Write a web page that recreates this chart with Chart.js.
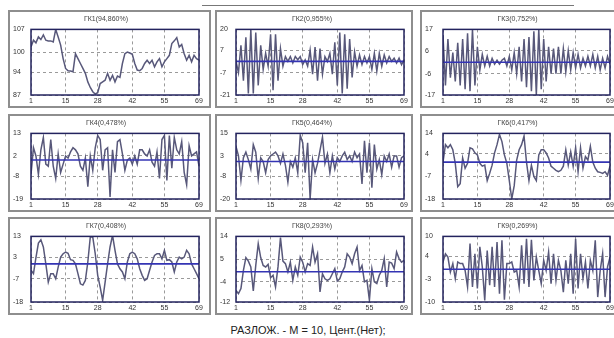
<!DOCTYPE html>
<html>
<head>
<meta charset="utf-8">
<script src="https://cdn.jsdelivr.net/npm/chart.js@4.4.0/dist/chart.umd.min.js"></script>
<style>
  body { margin: 0; background: #fff; width: 614px; height: 338px; overflow: hidden; position: relative; font-family: "Liberation Sans", Arial, sans-serif; }
  .panel { position: absolute; box-sizing: border-box; border: 2px solid #8e8e8e; background: #fff; }
  .panel canvas { display: block; }
  #caption { position: absolute; left: 0; width: 616px; top: 324px; text-align: center; font-size: 11px; color: #222; }
  #strip { position: absolute; left: 202px; width: 372px; top: 5px; height: 0; border-top: 1px solid #777; }
</style>
</head>
<body>
<div id="strip"></div>
<div id="caption">РАЗЛОЖ. - М = 10, Цент.(Нет);</div>
<script>
// подписи оси X и заголовки
const xTicks = [1, 15, 28, 42, 55, 69];
const titles = ['ГК1(94,860%)', 'ГК2(0,955%)', 'ГК3(0,752%)', 'ГК4(0,478%)', 'ГК5(0,464%)',
  'ГК6(0,417%)', 'ГК7(0,408%)', 'ГК8(0,293%)', 'ГК9(0,269%)'];

// подписи оси Y для каждой компоненты
const yTicks1 = [87, 94, 100, 107];
const yTicks2 = [-21, -7, 7, 20];
const yTicks3 = [-17, -6, 6, 17];
const yTicks4 = [-19, -8, 2, 13];
const yTicks5 = [-20, -8, 3, 15];
const yTicks6 = [-18, -7, 4, 14];
const yTicks7 = [-18, -7, 3, 13];
const yTicks8 = [-12, -4, 5, 14];
const yTicks9 = [-10, -3, 4, 10];

// значения главных компонент (69 точек)
const pc1 = [101.6,103.7,102.9,104.7,103.9,105.3,103.7,103.5,103.5,103.2,107,104.7,102.2,98.1,95.1,94.4,94.3,94.1,99.6,98.1,
  96.6,95.1,93.6,91,89.3,88,87.3,87.7,90.5,91,91.5,93.6,91.5,93,91,92.8,92.4,96.6,99.6,100.1,
  99.8,99.4,96.6,94.6,94.4,95.1,96.6,97.6,96.6,97.6,95.6,97.1,98.1,95.6,97.1,98.1,99.1,102.7,103.5,104.5,
  101.6,102.4,99.6,97.6,99.1,97.1,99.1,98.1,97.6];
const pc2 = [0,-7,10,-12,15,-20,20,-20,18,-15,10,-5,5,-3,17,-18,17,-12,8,-3,
  3,0,3,-1,3,1,3,-2,1,-3,7,-8,9,-12,8,-8,3,0,5,-8,
  12,-15,18,-20,17,-17,14,-10,6,-3,4,-2,3,-1,3,-5,5,-6,5,-3,
  4,-1,3,0,2,-1,2,-2,1];
const pc3 = [14,-12,12,-8,5,-10,10,-12,12,-14,15,-15,17,-12,8,-4,4,-2,3,-2,
  2,-1,1,-1,1,2,-2,3,-4,5,-6,8,-10,12,-13,13,-15,16,-17,17,
  -14,12,-10,8,-6,7,-6,8,-6,7,-5,6,-4,5,-3,4,-3,2,-2,3,
  -2,4,-3,3,-4,2,-3,3,-1];
const pc4 = [-7,6,2,-7,5,11,-2,-3,10,-3,-9,3,-6,-2,2,1,4,6,5,3,
  -3,-5,1,-13,2,-5,6,12,10,-5,5,6,-18,5,-6,9,10,3,-5,0,
  1,-2,2,-2,5,5,3,2,5,-1,-3,4,-9,10,12,-10,12,-4,11,5,
  3,9,-6,-12,7,2,3,4,-3];
const pc5 = [8,3,-10,2,5,1,-4,9,5,-9,2,0,-6,1,3,4,5,3,-1,4,
  -2,-11,0,-3,2,-6,14,10,-6,10,-20,1,-6,-1,6,13,-1,4,-6,3,
  -4,2,0,3,5,1,3,0,5,2,4,-12,11,-6,10,-14,9,-4,1,-7,
  3,0,4,-3,3,3,-3,2,3];
const pc6 = [0,8.5,7,8.5,6,-0.6,-12,-10.5,2,-3,-0.6,7,6.5,4.5,3.5,-0.6,-2,-1.5,-9,-5.5,
  -1.5,4.5,8.5,13.5,10,3.5,-0.6,-9,-18,-11.5,1,6,8.5,12.7,0,-9,-1.5,-7,-9,3.5,
  6,6,4.5,2,-2,-3,-4,-4.7,-4,-2,6,-1.5,5,-2,7,-4.7,7,-3,2.7,1,
  7.7,0,-3,-4.7,-5,-5.5,-4.7,-6.4,-2];
const pc7 = [-3,-4.6,3,9.8,11.4,8,0,-8.6,-4.6,-4.6,-7,-1.5,3.2,4.8,5.6,5,2,1.7,0,-4.6,
  -9.4,-10,-7.8,0.9,12.7,12.7,4.8,-5.4,-11,-17.2,-8.6,0,8,13.5,6.4,0,-2.3,-3.8,-7,0.9,
  4.8,5.6,4.8,2.4,-2.3,-5.4,-7.8,-7,-3,0.9,4,4.8,4.8,2.4,6.4,1.7,2,0.9,-3.8,0.9,
  3.2,2.4,3.2,6.4,4.8,0,-2.3,-4.6,-7];
const pc8 = [-7.4,-8.7,-6.7,0.5,5.6,4.2,1.9,-7.6,2.5,11.1,5.6,2.5,1.9,2.9,-2.4,-1.4,-6,1.9,13.5,4.2,
  3.2,-0.1,3.8,-3.4,1.9,-1.4,5.8,3.8,-0.1,3.2,2.5,9.8,3.8,7.1,-8,-0.8,-2.8,-3.4,-2.8,-0.8,
  1.2,-3.7,-2.8,-0.1,1.9,7.1,5.8,3.2,7.1,9.8,0.5,2.5,-4,-3.4,-11.3,1.2,-4,-4.7,-1.4,0.5,
  5.2,-6,3.8,3.4,1.2,7.8,5.2,3.8,4.5];
const pc9 = [2.2,4.7,3.7,-0.9,1.7,-2.9,2.2,1.7,1.7,-0.4,-5.4,7.8,-5.4,4.7,-5.9,6.8,0.7,-9.5,5.7,-4.9,
  6.8,-5.4,8.3,-7.5,8.8,-9.3,1.7,1.7,2.2,-0.9,-0.4,-5.4,7.3,-4.4,9.3,-5.4,9,-3.4,3.7,-0.4,
  -4.4,2.7,-0.4,5.2,-4.4,4.7,-3.4,2.7,-0.4,-7,2.7,-4.4,4.7,-7.5,9.3,-5.9,4.7,-2.9,2.2,-5.9,
  2.7,-0.4,8.8,-8.5,-0.4,4.7,-8.5,0.7,3.7];

const series = [pc1, pc2, pc3, pc4, pc5, pc6, pc7, pc8, pc9];
const yTickSets = [yTicks1, yTicks2, yTicks3, yTicks4, yTicks5, yTicks6, yTicks7, yTicks8, yTicks9];

// рамка области построения
const framePlugin = {
  id: 'frame',
  afterDraw(chart) {
    const a = chart.chartArea, ctx = chart.ctx;
    ctx.save();
    ctx.strokeStyle = '#23235e';
    ctx.lineWidth = 1.5;
    ctx.strokeRect(a.left, a.top, a.right - a.left, a.bottom - a.top);
    ctx.restore();
  }
};

// геометрия колонок и строк
const cols = [{ left: 8, width: 203, yw: 18, pr: 10 },
              { left: 215, width: 198, yw: 16, pr: 7 },
              { left: 420, width: 202, yw: 18, pr: 10 }];
const rows = [10, 114, 217];
const PANEL_H = 98;

series.forEach((vals, k) => {
  const c = cols[k % 3], top = rows[Math.floor(k / 3)];
  const div = document.createElement('div');
  div.className = 'panel';
  div.style.left = c.left + 'px';
  div.style.top = top + 'px';
  div.style.width = c.width + 'px';
  div.style.height = PANEL_H + 'px';
  const cv = document.createElement('canvas');
  cv.width = c.width - 4;
  cv.height = PANEL_H - 4;
  cv.style.width = (c.width - 4) + 'px';
  cv.style.height = (PANEL_H - 4) + 'px';
  div.appendChild(cv);
  document.body.appendChild(div);

  const yt = yTickSets[k];
  const datasets = [];
  if (k > 0) {
    datasets.push({ data: [{ x: 1, y: 0 }, { x: 69, y: 0 }], borderColor: '#3434b4', borderWidth: 1.6, pointRadius: 0 });
  }
  datasets.push({
    data: vals.map((v, i) => ({ x: i + 1, y: v })),
    borderColor: '#58587a', borderWidth: 1.5, pointRadius: 0, tension: 0
  });

  new Chart(cv, {
    type: 'line',
    data: { datasets },
    plugins: [framePlugin],
    options: {
      responsive: false,
      animation: false,
      layout: { padding: { left: 3, right: c.pr, top: 0, bottom: 1 } },
      plugins: {
        legend: { display: false },
        tooltip: { enabled: false },
        title: {
          display: true, text: titles[k], color: '#444',
          font: { size: 7, family: 'Liberation Sans', weight: 'normal' },
          padding: { top: 3, bottom: 6 }
        }
      },
      scales: {
        x: {
          type: 'linear', min: 1, max: 69,
          afterBuildTicks: s => { s.ticks = xTicks.map(v => ({ value: v })); },
          afterFit: s => { s.height = 10; },
          ticks: { color: '#333', font: { size: 7, family: 'Liberation Sans' }, padding: 2, maxRotation: 0 },
          grid: { color: '#9a9a9a', drawTicks: false },
          border: { display: false, dash: [3, 3] }
        },
        y: {
          min: yt[0], max: yt[3],
          afterBuildTicks: s => { s.ticks = yt.map(v => ({ value: v })); },
          afterFit: s => { s.width = c.yw; },
          ticks: { color: '#333', font: { size: 7, family: 'Liberation Sans' }, crossAlign: 'far', padding: 2 },
          grid: { color: '#9a9a9a', drawTicks: false },
          border: { display: false, dash: [3, 3] }
        }
      }
    }
  });
});
</script>
</body>
</html>
